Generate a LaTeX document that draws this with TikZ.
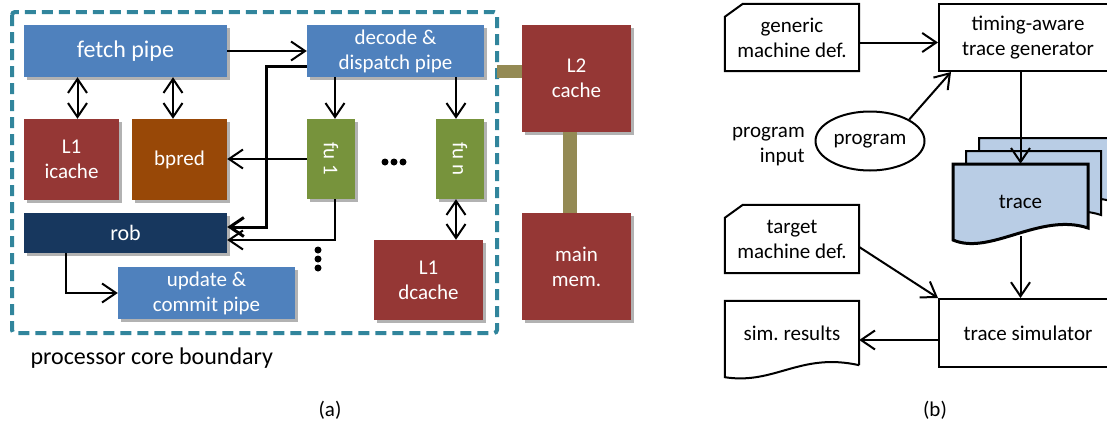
\documentclass[tikz,border=0pt]{standalone}
\usepackage{fontspec}
\setmainfont{Carlito}
\usetikzlibrary{arrows.meta,shadows,shapes.geometric}
\definecolor{pipeblue}{HTML}{4F81BD}
\definecolor{memred}{HTML}{953735}
\definecolor{predbrown}{HTML}{984807}
\definecolor{fugreen}{HTML}{77933C}
\definecolor{robnavy}{HTML}{17375E}
\definecolor{coreteal}{HTML}{31859C}
\definecolor{busolive}{HTML}{948A54}
\definecolor{tracefill}{HTML}{B9CDE5}
\begin{document}
\begin{tikzpicture}[x=1pt, y=-1pt,
	font=\fontsize{21}{25}\selectfont,
	blk/.style={fill=#1, text=white, inner sep=0pt, align=center,
		drop shadow={shadow xshift=3pt, shadow yshift=-3pt, fill=black, opacity=0.3}},
	lbl/.style={inner sep=0pt, align=center},
	flow/.style={line width=2pt, -{Straight Barb[length=14pt,width=19pt]}},
	dflow/.style={line width=2pt, {Straight Barb[length=14pt,width=19pt]}-{Straight Barb[length=14pt,width=19pt]}},
	bus/.style={busolive, line width=13pt}]
	\useasboundingbox (0,0) rectangle (1107,423);
	\clip (0,0) rectangle (1107,423);
	% (a) processor core
	\draw[coreteal, line width=4pt, dash pattern=on 11pt off 6pt, rounded corners=3pt] (12,12) rectangle (497,333);
	\node[blk=pipeblue, minimum width=203pt, minimum height=52pt, font=\fontsize{24}{28}\selectfont] (fetch) at (125.5,51) {fetch pipe};
	\node[blk=memred, minimum width=95pt, minimum height=81pt] (icache) at (71.5,159.5) {L1\\icache};
	\node[blk=predbrown, minimum width=95pt, minimum height=81pt] (bpred) at (179.5,159.5) {bpred};
	\node[blk=pipeblue, minimum width=177pt, minimum height=52pt] (decode) at (395.5,51) {decode \&\\dispatch pipe};
	\node[blk=fugreen, minimum width=48pt, minimum height=80pt] (fu1) at (331,159) {\rotatebox{-90}{fu 1}};
	\node[blk=fugreen, minimum width=48pt, minimum height=80pt] (fun) at (460,159) {\rotatebox{-90}{fu n}};
	\node[blk=robnavy, minimum width=203pt, minimum height=40pt, font=\fontsize{22}{26}\selectfont] (rob) at (125.5,233) {rob};
	\node[blk=pipeblue, minimum width=177pt, minimum height=52pt] (update) at (206.5,293) {update \&\\commit pipe};
	\node[blk=memred, minimum width=109pt, minimum height=80pt] (dcache) at (428.5,280) {L1\\dcache};
	\node[blk=memred, minimum width=109pt, minimum height=107pt] (l2) at (576.5,78.5) {L2\\cache};
	\node[blk=memred, minimum width=109pt, minimum height=107pt] (mem) at (576.5,266.5) {main\\mem.};
	\coordinate (coreedge) at (497,71);
	\draw[bus] (coreedge) -- (coreedge -| l2.west);
	\draw[bus, line width=14pt] ([xshift=-7pt]l2.south) -- ([xshift=-7pt]mem.north);

	\draw[flow] (fetch) -- (decode);
	\draw[dflow] ([xshift=6pt]icache.north |- fetch.south) -- ([xshift=6pt]icache.north);
	\draw[dflow] ([xshift=-6.5pt]bpred.north |- fetch.south) -- ([xshift=-6.5pt]bpred.north);
	\draw[flow] ([xshift=4pt]fu1.north |- decode.south) -- ([xshift=4pt]fu1.north);
	\draw[flow] ([xshift=-4pt]fun.north |- decode.south) -- ([xshift=-4pt]fun.north);
	\draw[dflow] ([xshift=-4pt]fun.south) -- ([xshift=-4pt]fun.south |- dcache.north);
	\draw[flow] (fu1.west) -- (fu1.west -| bpred.east);
	\draw[flow, line width=3pt] ([yshift=-15pt]decode.west) -- ++(-40,0) |- ([yshift=6pt]rob.east);
	\draw[flow] ([xshift=4pt]fu1.south) |- ([yshift=-7pt]rob.east);
	\draw[flow] ([xshift=-60pt]rob.south) |- (update.west);
	\foreach \i in {0,1,2}
	{\fill (385+9*\i,162) circle (3.5);
	 \fill (318,250+9*\i) circle (3.5);}
	\node[anchor=west, font=\fontsize{24}{28}\selectfont] (corelbl) at (27,358) {processor core boundary};
	\node (capa) at (330,410) {(a)};

	% (b) trace flow
	\node[lbl, minimum width=134pt, minimum height=67pt] (generic) at (792,37.5) {generic\\machine def.};
	\draw[line width=2pt] ([yshift=-13pt]generic.north west) -- ([xshift=18pt]generic.north west) -- (generic.north east) -- (generic.south east) -- (generic.south west) -- cycle;
	\node[lbl, draw, line width=2pt, minimum width=178pt, minimum height=67pt] (gen) at (1028,37.5) {timing-aware\\trace generator};
	\node[ellipse, draw, line width=2pt, minimum width=109pt, minimum height=59pt, inner sep=0pt] (prog) at (870,141) {program};
	\node[lbl, align=right, anchor=east] (proglbl) at (805,147) {program\\input};
	\foreach \d in {26,13}
	{\draw[fill=tracefill, line width=2pt] (953+\d,164-\d) -- (1088+\d,164-\d) -- (1088+\d,228-\d) .. controls (1040+\d,212-\d) and (990+\d,256-\d) .. (953+\d,240-\d) -- cycle;}
	\draw[fill=tracefill, line width=3pt] (953,164) -- (1088,164) -- (1088,228) .. controls (1040,212) and (990,256) .. (953,240) -- cycle;
	\node[lbl, minimum width=135pt, minimum height=76pt] (trace) at (1020.5,202) {trace};
	\node[lbl, minimum width=134pt, minimum height=68pt] (target) at (792,239) {target\\machine def.};
	\draw[line width=2pt] ([yshift=-13pt]target.north west) -- ([xshift=18pt]target.north west) -- (target.north east) -- (target.south east) -- (target.south west) -- cycle;
	\node[lbl, draw, line width=2pt, minimum width=178pt, minimum height=68pt] (sim) at (1028,333) {trace simulator};
	\node[lbl, minimum width=134pt, minimum height=64pt] (res) at (792,333) {sim.\ results};
	\draw[line width=2pt] (res.south east) -- (res.north east) -- (res.north west) -- ([yshift=-12pt]res.south west) .. controls (775,385) and (800,352) .. (res.south east);

	\draw[flow] ([yshift=-5pt]generic.east) -- ([yshift=-5pt]generic.east -| gen.west);
	\draw[flow] (prog.north east) -- ([xshift=13pt]gen.south west);
	\draw[flow] (gen.south -| trace) -- (trace.north);
	\draw[flow] ([yshift=4pt]trace.south) -- (trace.south |- sim.north);
	\draw[flow] ([yshift=-8pt]target.east) -- (sim.north west);
	\draw[flow] ([yshift=-7pt]sim.west) -- ([yshift=-7pt]sim.west -| res.east);
	\node (capb) at (935,410) {(b)};
\end{tikzpicture}
\end{document}
